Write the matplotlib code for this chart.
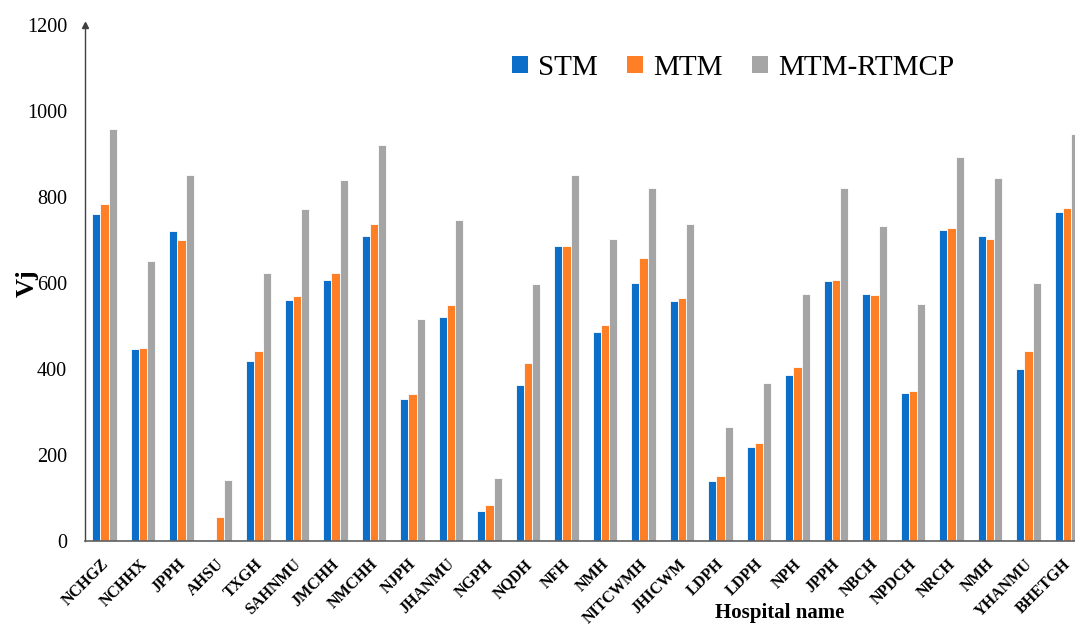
import numpy as np
import matplotlib
matplotlib.use("Agg")
from matplotlib import pyplot as plt
from matplotlib.patches import Patch
from matplotlib.transforms import ScaledTranslation

plt.rcParams['font.family'] = ['Liberation Serif', 'DejaVu Serif']

hospitals = ["NCHGZ", "NCHHX", "JPPH", "AHSU", "TXGH", "SAHNMU", "JMCHH", "NMCHH",
             "NJPH", "JHANMU", "NGPH", "NQDH", "NFH", "NMH", "NITCWMH", "JHICWM",
             "LDPH", "LDPH", "NPH", "JPPH", "NBCH", "NPDCH", "NRCH", "NMH",
             "YHANMU", "BHETGH"]
stm = [760, 447, 722, 0, 418, 561, 607, 710,
       331, 522, 70, 362, 687, 486, 600, 559,
       139, 219, 385, 605, 574, 345, 724, 710,
       401, 764]
mtm = [784, 450, 700, 55, 443, 569, 624, 737,
       342, 549, 84, 415, 687, 503, 657, 566,
       152, 228, 405, 607, 573, 350, 727, 703,
       443, 775]
rtmcp = [957, 652, 851, 142, 624, 771, 840, 920,
         517, 747, 147, 597, 850, 703, 821, 738,
         265, 368, 574, 822, 733, 552, 892, 844,
         600, 946]

series_names = ["STM", "MTM", "MTM-RTMCP"]
colors = ["#0b6ec8", "#ff7f27", "#a5a5a5"]

fig = plt.figure(figsize=(10.75, 6.25), dpi=100)
ax = fig.add_axes([0.0791, 0.1344, 0.9209, 0.8256])

x = np.arange(len(hospitals))
w = 0.215
for k, vals in enumerate([stm, mtm, rtmcp]):
    ax.bar(x + (k - 1) * w, vals, width=w, color=colors[k],
           edgecolor="white", linewidth=0.6, zorder=2)

ax.set_xlim(-0.506, 25.21)
ax.set_ylim(0, 1200)
ax.set_yticks(np.arange(0, 1201, 200))
ax.tick_params(axis='y', length=0, labelsize=14.5, pad=13)
ax.set_xticks(x)
ax.set_xticklabels(hospitals, rotation=45, ha='right', rotation_mode='anchor',
                   fontweight='bold', fontsize=11.5)
ax.tick_params(axis='x', length=0, pad=11)
# nudge the slanted names a little to the left
shift = ScaledTranslation(-3 / 72, 0, fig.dpi_scale_trans)
for lbl in ax.get_xticklabels():
    lbl.set_transform(lbl.get_transform() + shift)

for side in ['top', 'right']:
    ax.spines[side].set_visible(False)
ax.spines['left'].set_color('#404040')
ax.spines['bottom'].set_color('#606060')
ax.spines['left'].set_linewidth(1.0)
ax.spines['bottom'].set_linewidth(1.2)
# arrow head on the y axis
ax.plot([0], [1.0], marker='^', markersize=4, color='#404040',
        transform=ax.transAxes, clip_on=False)

ax.set_ylabel("Vj", fontsize=19, fontweight='bold', va='center')
ax.yaxis.set_label_coords(-0.058, 0.5)
ax.set_xlabel("Hospital name", fontsize=15, fontweight='bold', va='bottom')
ax.xaxis.set_label_coords(0.702, -0.158)

handles = [Patch(facecolor=c, edgecolor='none') for c in colors]
ax.legend(handles, series_names, loc='center', bbox_to_anchor=(0.655, 0.917),
          ncol=3, frameon=False, fontsize=21, handlelength=0.55, handleheight=0.55,
          handletextpad=0.35, columnspacing=1.0)

fig.savefig("out.png", dpi=100)
